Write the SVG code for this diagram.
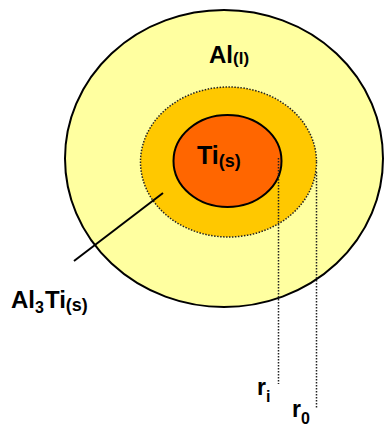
<svg xmlns="http://www.w3.org/2000/svg" width="384" height="424" viewBox="0 0 384 424">
<style>
text{font-family:"Liberation Sans",Arial,sans-serif;font-weight:bold;fill:#000}
.big{font-size:24px}
.sub{font-size:17px}
.dot{fill:none;stroke:#222;stroke-width:1.5;stroke-dasharray:1.5 1.5}
</style>
<rect width="384" height="424" fill="#fff"/>
<g id="outer">
<ellipse cx="224" cy="158.5" rx="159" ry="148.5" fill="#FFFFA0" stroke="#000" stroke-width="2"/>
<text x="209" y="62.5" class="big">Al<tspan class="sub" dy="1.5">(l)</tspan></text>
</g>
<g id="middle">
<ellipse cx="228.5" cy="162" rx="88" ry="75" class="dot" style="fill:#FFC800"/>
</g>
<g id="inner">
<ellipse cx="227.5" cy="161" rx="54" ry="46" fill="#FF6600" stroke="#000" stroke-width="2"/>
<text x="197" y="164" class="big" style="font-size:25px">Ti<tspan class="sub" style="font-size:18px" dy="3">(s)</tspan></text>
</g>
<g id="connectors">
<line x1="163" y1="193" x2="74" y2="261" stroke="#000" stroke-width="2"/>
<line x1="278.5" y1="158" x2="278.5" y2="384" class="dot"/>
<line x1="316.5" y1="172" x2="316.5" y2="408" class="dot"/>
</g>
<g id="label-al3ti">
<text x="11" y="308" class="big">Al<tspan class="sub" style="font-size:16px" dy="5">3</tspan><tspan dy="-5" dx="1">Ti</tspan><tspan class="sub" style="font-size:18px" dy="3">(s)</tspan></text>
</g>
<g id="label-ri">
<text x="257" y="395" class="big" style="font-size:23px">r<tspan class="sub" style="font-size:16px" dy="7">i</tspan></text>
</g>
<g id="label-r0">
<text x="292" y="417" class="big" style="font-size:23px">r<tspan class="sub" style="font-size:16px" dy="7">0</tspan></text>
</g>
</svg>
